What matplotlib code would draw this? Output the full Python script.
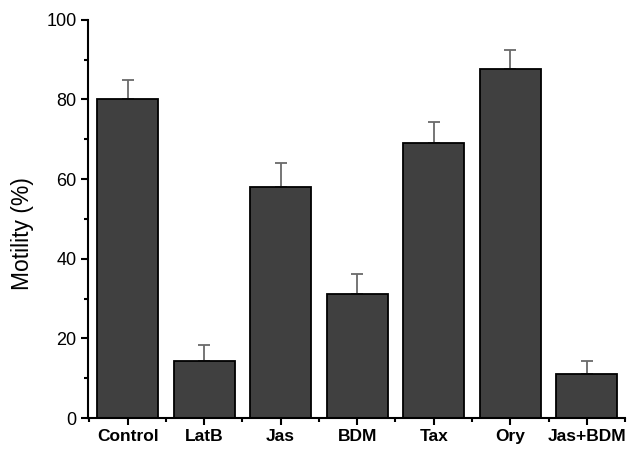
import matplotlib
matplotlib.use("Agg")
import matplotlib.pyplot as plt
from matplotlib.ticker import MultipleLocator

# Motility per treatment (mean and upper error, %)
treatments = ["Control", "LatB", "Jas", "BDM", "Tax", "Ory", "Jas+BDM"]
motility = [80.0, 14.3, 58.0, 31.1, 69.0, 87.7, 11.0]
errors = [5.0, 4.0, 6.0, 5.0, 5.3, 4.7, 3.3]
y_ticks = [0, 20, 40, 60, 80, 100]

plt.rcParams["font.family"] = ["Liberation Sans", "DejaVu Sans"]

fig = plt.figure(figsize=(6.32, 4.5), dpi=100)
ax = fig.add_axes([0.139, 0.071, 0.850, 0.885])

x = list(range(len(treatments)))
ax.bar(x, motility, width=0.8, color="#404040", edgecolor="black",
       linewidth=1.3, zorder=2)
ax.errorbar(x, motility, yerr=[[0] * len(errors), errors], fmt="none",
            ecolor="#6a6a6a", elinewidth=1.3, capsize=4, capthick=1.3,
            zorder=1)

ax.set_xlim(-0.52, 6.5)
ax.set_ylim(0, 100)
ax.set_xticks(x)
ax.set_xticklabels(treatments, fontsize=12.5, fontweight="bold")
ax.xaxis.set_minor_locator(MultipleLocator(1, offset=0.5))
ax.set_yticks(y_ticks)
ax.yaxis.set_minor_locator(MultipleLocator(10))
ax.tick_params(axis="y", labelsize=13, direction="out", length=5, width=1.5,
               pad=3)
ax.tick_params(axis="x", direction="out", length=5, width=1.5, pad=3)
ax.tick_params(which="minor", direction="out", length=3, width=1.5)
ax.set_ylabel("Motility (%)", fontsize=16.5)
ax.yaxis.set_label_coords(-0.100, 0.462)

for side in ("top", "right"):
    ax.spines[side].set_visible(False)
for side in ("left", "bottom"):
    ax.spines[side].set_linewidth(1.5)

fig.savefig("out.png", dpi=100)
